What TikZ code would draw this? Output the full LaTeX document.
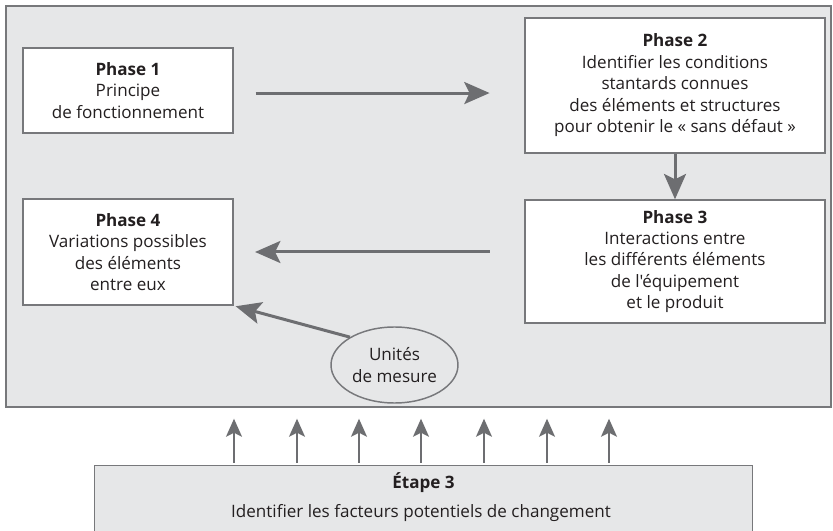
\documentclass[tikz,border=0pt]{standalone}
\usepackage{fontspec}
\setmainfont{Open Sans}[Ligatures=TeXOff]
\usetikzlibrary{arrows.meta,shapes.geometric,calc}
\definecolor{bgray}{HTML}{E6E7E8}
\definecolor{lgray}{HTML}{77787B}
\definecolor{agray}{HTML}{6D6E71}
\definecolor{tcol}{HTML}{231F20}
\newcommand{\dfont}{\fontsize{12.8}{16.1}\selectfont}
\tikzset{
  phasebox/.style={draw=lgray,line width=1.1pt,fill=white,align=center,inner sep=0pt,text=tcol,font=\dfont},
  bigarrow/.style={draw=agray,line width=2.25pt,-{Stealth[length=19pt,width=16.5pt,inset=4pt]}},
  smallarrow/.style={draw=agray,line width=1.1pt,-{Stealth[length=13.5pt,width=12pt,inset=3pt]}},
  txt/.style={text=tcol,font=\dfont,inner sep=0pt},
}
\begin{document}
\begin{tikzpicture}[x=0.75pt,y=-0.75pt]
\useasboundingbox (0,0) rectangle (833,531);
% frame
\node[draw=lgray,line width=1.1pt,fill=bgray,minimum width=618.75pt,minimum height=300.75pt,inner sep=0pt] (frame) at (418.5,206.5) {};
% phases
\node[phasebox,minimum width=157.5pt,minimum height=63.75pt] (p1) at (128,90.5)
  {\textbf{Phase 1}\\Principe\\de fonctionnement};
\node[phasebox,minimum width=225pt,minimum height=101.25pt] (p2) at (675,85.5)
  {\textbf{Phase 2}\\Identifier les conditions\\stantards connues\\des éléments et structures\\pour obtenir le « sans défaut »};
\node[phasebox,minimum width=225pt,minimum height=92.25pt] (p3) at (675,261.5)
  {\textbf{Phase 3}\\Interactions entre\\les différents éléments\\de l'équipement\\et le produit};
\node[phasebox,minimum width=157.5pt,minimum height=79.5pt] (p4) at (128,252)
  {\textbf{Phase 4}\\Variations possibles\\des éléments\\entre eux};
\node[ellipse,draw=lgray,line width=1.1pt,fill=bgray,minimum width=95.25pt,minimum height=57pt,inner sep=0pt,align=center,text=tcol,
  font=\dfont] (um) at (394.5,365) {Unités\\de mesure};
% arrows
\draw[bigarrow,shorten <=16.5pt,shorten >=26pt] ([yshift=-1.9pt]p1.east) -- ([yshift=-1.9pt]p1.east -| p2.west);
\draw[bigarrow] (p2.south) -- (p3.north);
\draw[bigarrow,shorten <=26pt,shorten >=16pt] (p3.west |- p4.east) -- (p4.east);
\draw[bigarrow,shorten >=1.5pt] (um.148) -- (p4.south east);
% bottom box
\node[fill=bgray,minimum width=492.75pt,minimum height=48.75pt,inner sep=0pt] (etape) at (423.5,498.5) {};
\draw[lgray,line width=1.1pt] (etape.south west) -- (etape.north west) -- (etape.north east) -- (etape.south east);
\node[txt,font=\dfont\bfseries] (et1) at (423.5,483) {Étape 3};
\node[txt] (et2) at (421,513) {Identifier les facteurs potentiels de changement};
% up arrows
\foreach \i/\x in {1/234,2/297,3/359,4/421,5/484,6/547,7/609}{
  \coordinate (u\i) at (\x,0);
  \draw[smallarrow,shorten <=2.25pt,shorten >=8.25pt] (u\i |- etape.north) -- (u\i |- frame.south);
}
\end{tikzpicture}
\end{document}
